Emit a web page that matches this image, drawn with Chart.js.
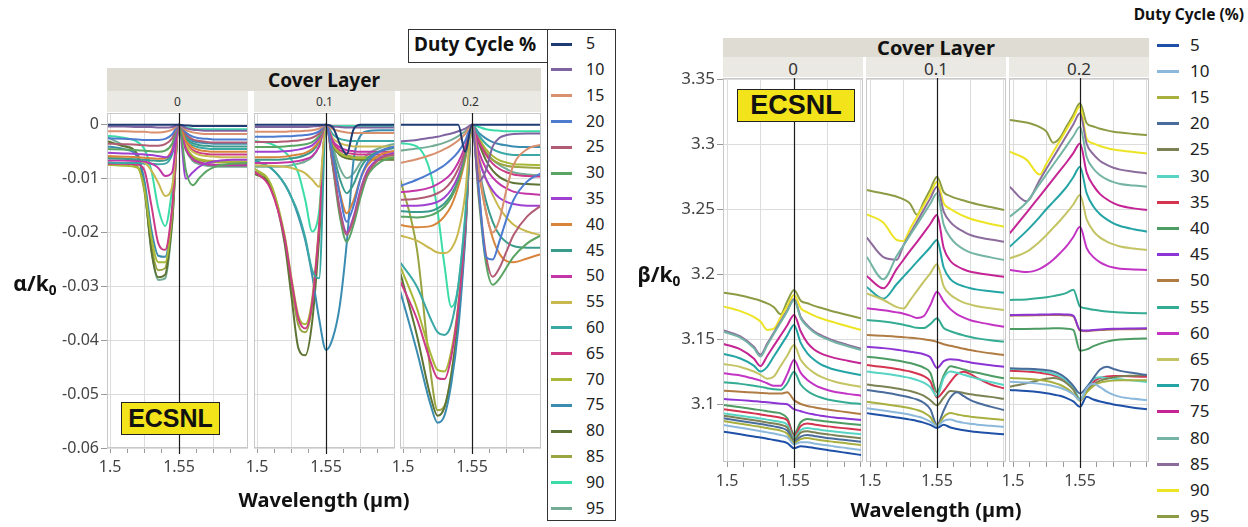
<!DOCTYPE html>
<html>
<head>
<meta charset="utf-8">
<script src="https://cdn.jsdelivr.net/npm/chart.js@4.4.1/dist/chart.umd.min.js"></script>
<style>
  body { margin: 0; background: #fff; }
  #page { position: relative; width: 1248px; height: 527px; overflow: hidden;
          font-family: "Noto Sans", "Open Sans", sans-serif; color: #222; }
  canvas { position: absolute; }
  .lbl { position: absolute; white-space: nowrap; line-height: 1; }
  .c { transform: translate(-50%, -50%); }
  .box { position: absolute; box-sizing: border-box; }
  .tag { position: absolute; box-sizing: border-box; background: #f2e31b; border: 1.5px solid #222;
         font-family: "Liberation Sans", Arial, sans-serif; font-weight: bold; color: #111;
         display: flex; align-items: center; justify-content: center; z-index: 5; }
  .axt { font-weight: bold; }
  .axt sub { font-size: 0.65em; vertical-align: -0.25em; }
</style>
</head>
<body>
<div id="page"></div>
<script>
// wavelength grid (µm) shared by every curve
const wavelength = [1.4975, 1.51, 1.52, 1.525, 1.53, 1.535, 1.54, 1.545, 1.55,
                    1.555, 1.56, 1.565, 1.57, 1.575, 1.58, 1.59, 1.6];
const dutyCycle = [5, 10, 15, 20, 25, 30, 35, 40, 45, 50, 55, 60, 65, 70, 75, 80, 85, 90, 95];
const coverLayers = ['0', '0.1', '0.2'];
const xTickValues = [1.5, 1.5125, 1.525, 1.5375, 1.55, 1.5625, 1.575, 1.5875, 1.6];
const xTickLabels = ['1.5', '1.55'];
const alphaTicks = [-0.06, -0.05, -0.04, -0.03, -0.02, -0.01, 0];
const betaTicks = [3.1, 3.15, 3.2, 3.25, 3.3, 3.35];

const alphaColors = ['#1f3b73', '#8064a2', '#d9906f', '#4c7bd0', '#b15c74', '#5aa564', '#a040d0',
  '#d8843a', '#3a9a8c', '#c236a8', '#c9b850', '#3aa8a4', '#cc3a86', '#a8b836', '#3a8cb0',
  '#5e7434', '#9aa440', '#3cdca8', '#74ac96'];
const betaColors = ['#1f50a8', '#8cb8dc', '#a8b040', '#4a6c9c', '#7c8254', '#58d4c4', '#d43450',
  '#4c9c64', '#8c34d4', '#b07c44', '#34ac94', '#c434c4', '#c4c464', '#24a4a4', '#c42494',
  '#74b4a4', '#8c6c9c', '#ece424', '#8c9c44'];

// alpha/k0, cover layer 0 (one row per duty cycle)
const alphaCover0 = [
  [0,0,0,0,0,0,0,0,0,-.0001,-.0002,-.0002,-.0002,-.0002,-.0002,-.0002,-.0002],
  [-.0003,-.0003,-.0004,-.0004,-.0004,-.0005,-.0005,-.0004,0,-.0006,-.0009,-.0010,-.0011,-.0011,-.0011,-.0011,-.0011],
  [-.0012,-.0012,-.0013,-.0013,-.0014,-.0014,-.0013,-.0009,0,-.0010,-.0014,-.0016,-.0017,-.0017,-.0017,-.0017,-.0017],
  [-.0025,-.0026,-.0027,-.0028,-.0028,-.0028,-.0026,-.0018,0,-.0014,-.0022,-.0025,-.0026,-.0027,-.0027,-.0027,-.0027],
  [-.0035,-.0036,-.0037,-.0038,-.0039,-.0039,-.0036,-.0025,0,-.0018,-.0027,-.0030,-.0032,-.0033,-.0033,-.0033,-.0033],
  [-.0045,-.0046,-.0047,-.0048,-.0049,-.0050,-.0048,-.0035,0,-.0085,-.0112,-.0098,-.0086,-.0079,-.0075,-.0072,-.0071],
  [-.0052,-.0053,-.0054,-.0055,-.0056,-.0058,-.0060,-.0050,0,-.0100,-.0088,-.0077,-.0071,-.0068,-.0066,-.0065,-.0065],
  [-.0058,-.0059,-.0060,-.0061,-.0062,-.0063,-.0062,-.0045,0,-.0030,-.0042,-.0047,-.0049,-.0050,-.0050,-.0050,-.0050],
  [-.0062,-.0063,-.0064,-.0065,-.0066,-.0067,-.0066,-.0050,0,-.0024,-.0034,-.0038,-.0039,-.0040,-.0040,-.0040,-.0040],
  [-.0066,-.0066,-.0067,-.0068,-.0072,-.0080,-.0095,-.0088,0,-.0045,-.0064,-.0070,-.0073,-.0074,-.0075,-.0075,-.0075],
  [-.0060,-.0062,-.0066,-.0070,-.0085,-.0108,-.0132,-.0115,0,-.0036,-.0050,-.0056,-.0058,-.0059,-.0060,-.0060,-.0060],
  [-.0070,-.0071,-.0071,-.0072,-.0072,-.0073,-.0072,-.0055,0,-.0027,-.0038,-.0042,-.0044,-.0045,-.0045,-.0045,-.0045],
  [-.0072,-.0072,-.0074,-.0085,-.0150,-.0220,-.0232,-.0155,0,-.0033,-.0047,-.0052,-.0054,-.0055,-.0055,-.0055,-.0055],
  [-.0074,-.0076,-.0080,-.0120,-.0210,-.0255,-.0255,-.0165,0,-.0041,-.0058,-.0064,-.0066,-.0067,-.0068,-.0068,-.0068],
  [-.0040,-.0045,-.0060,-.0105,-.0195,-.0243,-.0245,-.0160,0,-.0021,-.0030,-.0033,-.0034,-.0035,-.0035,-.0035,-.0035],
  [-.0030,-.0040,-.0055,-.0115,-.0235,-.0283,-.0278,-.0180,0,-.0045,-.0064,-.0070,-.0073,-.0074,-.0075,-.0075,-.0075],
  [-.0070,-.0072,-.0078,-.0125,-.0225,-.0270,-.0266,-.0172,0,-.0042,-.0060,-.0066,-.0068,-.0069,-.0070,-.0070,-.0070],
  [-.0020,-.0024,-.0032,-.0045,-.0085,-.0155,-.0188,-.0120,0,-.0005,-.0007,-.0008,-.0008,-.0008,-.0008,-.0008,-.0008],
  [-.0022,-.0038,-.0058,-.0120,-.0232,-.0288,-.0285,-.0185,0,-.0047,-.0067,-.0073,-.0076,-.0077,-.0078,-.0078,-.0078]
];

// alpha/k0, cover layer 0.1
const alphaCover01 = [
  [0,0,0,0,0,0,0,0,0,-.0005,-.0035,-.0055,-.0008,0,0,0,0],
  [-.0004,-.0004,-.0004,-.0004,-.0004,-.0004,-.0003,-.0002,0,-.0003,-.0004,-.0005,-.0005,-.0005,-.0005,-.0005,-.0005],
  [-.0013,-.0013,-.0013,-.0012,-.0012,-.0011,-.0010,-.0007,0,-.0008,-.0012,-.0014,-.0015,-.0015,-.0015,-.0015,-.0015],
  [-.0022,-.0022,-.0021,-.0021,-.0020,-.0019,-.0017,-.0012,0,-.0060,-.0130,-.0180,-.0150,-.0100,-.0070,-.0048,-.0040],
  [-.0032,-.0032,-.0031,-.0030,-.0029,-.0027,-.0024,-.0016,0,-.0075,-.0160,-.0204,-.0175,-.0125,-.0090,-.0062,-.0055],
  [-.0041,-.0041,-.0040,-.0039,-.0038,-.0036,-.0032,-.0021,0,-.0080,-.0170,-.0217,-.0185,-.0135,-.0095,-.0068,-.0060],
  [-.0050,-.0050,-.0049,-.0048,-.0046,-.0043,-.0038,-.0025,0,-.0075,-.0155,-.0200,-.0170,-.0120,-.0085,-.0060,-.0052],
  [-.0060,-.0060,-.0059,-.0057,-.0055,-.0052,-.0045,-.0030,0,-.0060,-.0125,-.0164,-.0140,-.0100,-.0075,-.0055,-.0048],
  [-.0065,-.0065,-.0064,-.0062,-.0060,-.0056,-.0049,-.0032,0,-.0050,-.0100,-.0127,-.0110,-.0080,-.0062,-.0048,-.0043],
  [-.0071,-.0071,-.0070,-.0069,-.0067,-.0064,-.0058,-.0040,0,-.0030,-.0042,-.0047,-.0049,-.0050,-.0050,-.0050,-.0050],
  [-.0075,-.0076,-.0078,-.0080,-.0084,-.0090,-.0102,-.0115,0,-.0025,-.0034,-.0038,-.0040,-.0040,-.0040,-.0040,-.0040],
  [-.0068,-.0080,-.0110,-.0135,-.0165,-.0210,-.0270,-.0285,0,-.0018,-.0026,-.0029,-.0030,-.0030,-.0030,-.0030,-.0030],
  [-.0085,-.0120,-.0210,-.0290,-.0360,-.0378,-.0330,-.0190,0,-.0033,-.0047,-.0052,-.0054,-.0055,-.0055,-.0055,-.0055],
  [-.0080,-.0110,-.0205,-.0285,-.0355,-.0370,-.0322,-.0185,0,-.0037,-.0053,-.0059,-.0061,-.0062,-.0062,-.0062,-.0062],
  [-.0065,-.0080,-.0110,-.0135,-.0170,-.0215,-.0280,-.0360,-.0418,-.0395,-.0335,-.0220,-.0065,-.0020,-.0012,-.0010,-.0010],
  [-.0090,-.0115,-.0220,-.0320,-.0415,-.0428,-.0365,-.0210,0,-.0039,-.0056,-.0062,-.0064,-.0065,-.0065,-.0065,-.0065],
  [-.0085,-.0112,-.0212,-.0300,-.0372,-.0385,-.0335,-.0195,0,-.0036,-.0052,-.0057,-.0059,-.0060,-.0060,-.0060,-.0060],
  [-.0030,-.0035,-.0050,-.0065,-.0090,-.0140,-.0198,-.0160,0,-.0002,-.0002,-.0002,-.0002,-.0002,-.0002,-.0002,-.0002],
  [-.0078,-.0078,-.0077,-.0075,-.0072,-.0068,-.0060,-.0040,0,-.0040,-.0080,-.0099,-.0090,-.0070,-.0055,-.0042,-.0035]
];

// alpha/k0, cover layer 0.2
const alphaCover02 = [
  [0,0,0,0,0,0,0,-.0050,0,0,0,0,0,0,0,0,0],
  [-.0031,-.0028,-.0024,-.0022,-.0019,-.0016,-.0012,-.0007,0,-.0105,-.0085,-.0040,-.0024,-.0019,-.0017,-.0016,-.0016],
  [-.0071,-.0064,-.0056,-.0051,-.0045,-.0038,-.0029,-.0017,0,-.0080,-.0160,-.0200,-.0175,-.0120,-.0075,-.0045,-.0037],
  [-.0114,-.0102,-.0090,-.0083,-.0075,-.0064,-.0050,-.0030,0,-.0120,-.0245,-.0250,-.0215,-.0175,-.0140,-.0105,-.0090],
  [-.0139,-.0137,-.0132,-.0127,-.0119,-.0105,-.0082,-.0048,0,-.0130,-.0240,-.0282,-.0265,-.0235,-.0205,-.0170,-.0150],
  [-.0170,-.0172,-.0168,-.0162,-.0152,-.0135,-.0105,-.0060,0,-.0140,-.0255,-.0297,-.0285,-.0265,-.0245,-.0220,-.0205],
  [-.0150,-.0150,-.0147,-.0143,-.0135,-.0120,-.0095,-.0055,0,-.0065,-.0100,-.0122,-.0136,-.0143,-.0147,-.0150,-.0150],
  [-.0186,-.0190,-.0188,-.0182,-.0170,-.0150,-.0115,-.0065,0,-.0090,-.0160,-.0210,-.0240,-.0253,-.0255,-.0248,-.0240],
  [-.0160,-.0162,-.0160,-.0155,-.0146,-.0130,-.0102,-.0058,0,-.0080,-.0140,-.0180,-.0205,-.0218,-.0225,-.0228,-.0228],
  [-.0125,-.0122,-.0116,-.0110,-.0102,-.0090,-.0070,-.0040,0,-.0050,-.0080,-.0098,-.0110,-.0118,-.0124,-.0128,-.0130],
  [-.0205,-.0215,-.0230,-.0237,-.0238,-.0230,-.0200,-.0130,0,-.0060,-.0100,-.0130,-.0155,-.0172,-.0185,-.0198,-.0205],
  [-.0254,-.0300,-.0360,-.0385,-.0390,-.0370,-.0300,-.0175,0,-.0020,-.0035,-.0045,-.0051,-.0054,-.0056,-.0056,-.0056],
  [-.0288,-.0360,-.0440,-.0470,-.0472,-.0430,-.0340,-.0195,0,-.0030,-.0055,-.0072,-.0082,-.0088,-.0092,-.0095,-.0096],
  [-.0260,-.0340,-.0425,-.0455,-.0458,-.0420,-.0335,-.0190,0,-.0025,-.0045,-.0058,-.0066,-.0070,-.0073,-.0074,-.0075],
  [-.0305,-.0420,-.0520,-.0553,-.0540,-.0480,-.0380,-.0215,0,-.0015,-.0025,-.0032,-.0036,-.0038,-.0040,-.0041,-.0041],
  [-.0270,-.0390,-.0505,-.0540,-.0525,-.0465,-.0365,-.0205,0,-.0035,-.0065,-.0085,-.0097,-.0104,-.0108,-.0110,-.0111],
  [-.0096,-.0230,-.0460,-.0530,-.0522,-.0462,-.0360,-.0200,0,-.0030,-.0052,-.0065,-.0072,-.0076,-.0078,-.0079,-.0080],
  [-.0034,-.0040,-.0090,-.0160,-.0260,-.0338,-.0300,-.0170,0,-.0004,-.0008,-.0010,-.0011,-.0012,-.0012,-.0012,-.0012],
  [-.0048,-.0044,-.0040,-.0037,-.0033,-.0028,-.0021,-.0012,0,-.0030,-.0050,-.0065,-.0075,-.0082,-.0088,-.0092,-.0094]
];

// beta/k0, cover layer 0
const betaCover0 = [
  [3.0787,3.0767,3.0750,3.0742,3.0733,3.0724,3.0714,3.0700,3.0660,3.0675,3.0670,3.0662,3.0654,3.0646,3.0638,3.0623,3.0608],
  [3.0838,3.0817,3.0800,3.0791,3.0782,3.0773,3.0762,3.0745,3.0690,3.0705,3.0705,3.0697,3.0689,3.0682,3.0674,3.0660,3.0646],
  [3.0869,3.0849,3.0832,3.0824,3.0815,3.0806,3.0795,3.0772,3.0700,3.0730,3.0738,3.0730,3.0722,3.0715,3.0708,3.0697,3.0685],
  [3.0890,3.0870,3.0854,3.0846,3.0837,3.0828,3.0818,3.0795,3.0710,3.0750,3.0762,3.0754,3.0746,3.0739,3.0732,3.0721,3.0710],
  [3.0910,3.0890,3.0875,3.0867,3.0858,3.0850,3.0840,3.0818,3.0725,3.0780,3.0790,3.0782,3.0774,3.0767,3.0760,3.0748,3.0736],
  [3.0928,3.0910,3.0896,3.0888,3.0880,3.0872,3.0862,3.0840,3.0740,3.0800,3.0815,3.0808,3.0801,3.0795,3.0789,3.0778,3.0767],
  [3.0959,3.0942,3.0928,3.0920,3.0912,3.0904,3.0895,3.0875,3.0750,3.0830,3.0850,3.0843,3.0835,3.0828,3.0822,3.0811,3.0800],
  [3.0992,3.0975,3.0960,3.0953,3.0945,3.0937,3.0928,3.0890,3.0770,3.0860,3.0885,3.0878,3.0871,3.0865,3.0860,3.0849,3.0838],
  [3.1038,3.1030,3.1022,3.1018,3.1013,3.1008,3.1003,3.0998,3.0960,3.0945,3.0930,3.0920,3.0910,3.0903,3.0897,3.0887,3.0877],
  [3.1102,3.1095,3.1088,3.1085,3.1082,3.1080,3.1080,3.1090,3.1030,3.1000,3.0985,3.0975,3.0965,3.0957,3.0950,3.0937,3.0923],
  [3.1167,3.1155,3.1140,3.1132,3.1122,3.1113,3.1110,3.1160,3.1249,3.1150,3.1100,3.1070,3.1050,3.1035,3.1025,3.1010,3.1000],
  [3.1236,3.1220,3.1195,3.1180,3.1160,3.1140,3.1140,3.1230,3.1338,3.1240,3.1185,3.1150,3.1125,3.1108,3.1095,3.1078,3.1064],
  [3.1308,3.1285,3.1250,3.1225,3.1195,3.1212,3.1293,3.1373,3.1454,3.1340,3.1280,3.1240,3.1210,3.1190,3.1173,3.1150,3.1133],
  [3.1385,3.1350,3.1295,3.1250,3.1286,3.1367,3.1447,3.1528,3.1608,3.1470,3.1390,3.1340,3.1305,3.1283,3.1265,3.1243,3.1223],
  [3.1462,3.1420,3.1350,3.1292,3.1370,3.1449,3.1527,3.1606,3.1685,3.1560,3.1470,3.1420,3.1390,3.1370,3.1355,3.1333,3.1313],
  [3.1556,3.1510,3.1430,3.1366,3.1453,3.1540,3.1627,3.1713,3.1800,3.1660,3.1595,3.1550,3.1520,3.1497,3.1477,3.1445,3.1415],
  [3.1566,3.1520,3.1440,3.1380,3.1465,3.1550,3.1637,3.1722,3.1808,3.1670,3.1605,3.1560,3.1530,3.1507,3.1487,3.1455,3.1425],
  [3.1749,3.1715,3.1670,3.1635,3.1570,3.1580,3.1667,3.1753,3.1838,3.1738,3.1705,3.1680,3.1660,3.1643,3.1628,3.1598,3.1569],
  [3.1856,3.1835,3.1810,3.1795,3.1775,3.1745,3.1690,3.1790,3.1877,3.1795,3.1775,3.1755,3.1740,3.1725,3.1710,3.1685,3.1659]
];

// beta/k0, cover layer 0.1
const betaCover01 = [
  [3.0930,3.0912,3.0897,3.0889,3.0880,3.0870,3.0857,3.0840,3.0815,3.0840,3.0820,3.0808,3.0798,3.0790,3.0784,3.0775,3.0767],
  [3.0967,3.0950,3.0935,3.0927,3.0918,3.0905,3.0890,3.0865,3.0830,3.0870,3.0880,3.0865,3.0855,3.0848,3.0841,3.0833,3.0825],
  [3.1018,3.1000,3.0985,3.0977,3.0968,3.0955,3.0935,3.0900,3.0830,3.0900,3.0930,3.0920,3.0910,3.0903,3.0896,3.0887,3.0877],
  [3.1108,3.1090,3.1072,3.1062,3.1050,3.1035,3.1010,3.0960,3.0840,3.0950,3.1050,3.1090,3.1060,3.1030,3.1010,3.0980,3.0954],
  [3.1150,3.1135,3.1120,3.1110,3.1100,3.1085,3.1065,3.1030,3.0990,3.1050,3.1100,3.1095,3.1085,3.1075,3.1068,3.1055,3.1040],
  [3.1250,3.1235,3.1220,3.1210,3.1200,3.1185,3.1165,3.1130,3.1060,3.1200,3.1250,3.1240,3.1225,3.1210,3.1195,3.1170,3.1146],
  [3.1300,3.1285,3.1270,3.1260,3.1250,3.1235,3.1215,3.1175,3.1050,3.1100,3.1170,3.1230,3.1248,3.1230,3.1200,3.1150,3.1121],
  [3.1364,3.1350,3.1335,3.1325,3.1315,3.1300,3.1280,3.1240,3.1090,3.1220,3.1290,3.1280,3.1265,3.1250,3.1240,3.1218,3.1198],
  [3.1441,3.1430,3.1418,3.1410,3.1402,3.1394,3.1383,3.1360,3.1277,3.1330,3.1345,3.1340,3.1330,3.1320,3.1312,3.1298,3.1287],
  [3.1531,3.1525,3.1518,3.1514,3.1510,3.1505,3.1498,3.1490,3.1478,3.1460,3.1448,3.1437,3.1425,3.1415,3.1405,3.1390,3.1377],
  [3.1646,3.1635,3.1620,3.1610,3.1598,3.1586,3.1584,3.1615,3.1659,3.1585,3.1560,3.1542,3.1528,3.1515,3.1505,3.1490,3.1480],
  [3.1736,3.1722,3.1705,3.1695,3.1680,3.1662,3.1675,3.1760,3.1864,3.1790,3.1730,3.1690,3.1665,3.1645,3.1632,3.1612,3.1595],
  [3.1851,3.1800,3.1745,3.1735,3.1800,3.1870,3.1940,3.2005,3.2075,3.1905,3.1840,3.1805,3.1780,3.1765,3.1752,3.1737,3.1723],
  [3.1900,3.1810,3.1923,3.1980,3.2036,3.2093,3.2149,3.2206,3.2262,3.2050,3.1960,3.1925,3.1905,3.1890,3.1880,3.1868,3.1856],
  [3.1985,3.1890,3.2040,3.2110,3.2180,3.2245,3.2315,3.2385,3.2454,3.2200,3.2100,3.2060,3.2035,3.2018,3.2008,3.1993,3.1979],
  [3.2133,3.1960,3.2140,3.2220,3.2300,3.2380,3.2460,3.2540,3.2621,3.2380,3.2280,3.2225,3.2190,3.2165,3.2150,3.2128,3.2108],
  [3.2282,3.2130,3.2110,3.2222,3.2312,3.2402,3.2492,3.2582,3.2672,3.2480,3.2400,3.2355,3.2325,3.2300,3.2285,3.2265,3.2249],
  [3.2459,3.2395,3.2262,3.2255,3.2349,3.2439,3.2529,3.2619,3.2710,3.2544,3.2500,3.2470,3.2445,3.2425,3.2410,3.2385,3.2364],
  [3.2646,3.2620,3.2595,3.2575,3.2540,3.2456,3.2552,3.2651,3.2749,3.2630,3.2600,3.2580,3.2565,3.2550,3.2537,3.2515,3.2492]
];

// beta/k0, cover layer 0.2
const betaCover02 = [
  [3.1108,3.1100,3.1090,3.1083,3.1074,3.1063,3.1045,3.1020,3.0979,3.1056,3.1035,3.1020,3.1008,3.0997,3.0988,3.0972,3.0959],
  [3.1172,3.1165,3.1155,3.1148,3.1138,3.1125,3.1105,3.1075,3.1031,3.1120,3.1155,3.1130,3.1095,3.1070,3.1055,3.1040,3.1031],
  [3.1200,3.1195,3.1185,3.1177,3.1165,3.1148,3.1120,3.1080,3.1025,3.1090,3.1140,3.1165,3.1175,3.1180,3.1182,3.1183,3.1183],
  [3.1275,3.1272,3.1266,3.1260,3.1250,3.1230,3.1195,3.1140,3.1082,3.1130,3.1200,3.1265,3.1287,3.1270,3.1255,3.1238,3.1223],
  [3.1133,3.1160,3.1185,3.1195,3.1200,3.1190,3.1160,3.1110,3.1031,3.1100,3.1150,3.1180,3.1195,3.1205,3.1212,3.1218,3.1223],
  [3.1270,3.1265,3.1255,3.1245,3.1232,3.1212,3.1180,3.1125,3.1040,3.1120,3.1190,3.1205,3.1200,3.1195,3.1190,3.1180,3.1170],
  [3.1255,3.1250,3.1240,3.1232,3.1222,3.1205,3.1175,3.1120,3.1030,3.1100,3.1170,3.1200,3.1212,3.1215,3.1215,3.1212,3.1210],
  [3.1577,3.1578,3.1580,3.1581,3.1582,3.1582,3.1580,3.1570,3.1410,3.1420,3.1445,3.1465,3.1480,3.1490,3.1497,3.1502,3.1505],
  [3.1685,3.1686,3.1688,3.1689,3.1690,3.1690,3.1688,3.1680,3.1570,3.1565,3.1570,3.1574,3.1577,3.1579,3.1580,3.1581,3.1582],
  [3.1680,3.1681,3.1683,3.1684,3.1685,3.1685,3.1683,3.1675,3.1565,3.1560,3.1565,3.1569,3.1572,3.1574,3.1575,3.1576,3.1577],
  [3.1800,3.1805,3.1815,3.1822,3.1830,3.1840,3.1855,3.1880,3.1750,3.1735,3.1725,3.1718,3.1712,3.1708,3.1705,3.1700,3.1698],
  [3.2031,3.2015,3.2040,3.2070,3.2110,3.2160,3.2215,3.2285,3.2364,3.2200,3.2130,3.2090,3.2065,3.2050,3.2040,3.2035,3.2031],
  [3.2121,3.2170,3.2250,3.2300,3.2355,3.2410,3.2470,3.2535,3.2608,3.2420,3.2330,3.2280,3.2250,3.2228,3.2212,3.2196,3.2185],
  [3.2210,3.2330,3.2440,3.2500,3.2555,3.2610,3.2670,3.2745,3.2826,3.2620,3.2520,3.2460,3.2420,3.2390,3.2370,3.2345,3.2326],
  [3.2313,3.2470,3.2600,3.2665,3.2730,3.2795,3.2860,3.2930,3.3005,3.2780,3.2680,3.2615,3.2575,3.2545,3.2525,3.2505,3.2492],
  [3.2440,3.2550,3.2695,3.2768,3.2841,3.2913,3.2986,3.3060,3.3133,3.2900,3.2810,3.2760,3.2728,3.2707,3.2693,3.2681,3.2672],
  [3.2672,3.2560,3.2726,3.2811,3.2896,3.2981,3.3066,3.3151,3.3236,3.3000,3.2920,3.2870,3.2840,3.2818,3.2803,3.2787,3.2774],
  [3.2941,3.2880,3.2765,3.2850,3.2938,3.3026,3.3114,3.3202,3.3290,3.3040,3.3005,3.2985,3.2970,3.2958,3.2950,3.2938,3.2928],
  [3.3185,3.3165,3.3130,3.3095,3.3010,3.3047,3.3136,3.3224,3.3313,3.3160,3.3135,3.3118,3.3105,3.3095,3.3088,3.3078,3.3069]
];

const page = document.getElementById('page');
const FONT = '"Noto Sans", "Open Sans", sans-serif';
const Y_AXIS_W = 60, X_AXIS_H = 42, PAD_TOP = 12;

function el(tag, cls, style, html) {
  const e = document.createElement(tag);
  if (cls) e.className = cls;
  Object.assign(e.style, style);
  if (html !== undefined) e.innerHTML = html;
  page.appendChild(e);
  return e;
}

// facet border + reference line at 1.55 µm
const facetFrame = {
  id: 'facetFrame',
  afterDatasetsDraw(chart, args, opts) {
    const { ctx, chartArea: a, scales: { x } } = chart;
    ctx.save();
    ctx.strokeStyle = '#c8c8c8';
    ctx.lineWidth = 1;
    ctx.strokeRect(a.left + 0.5, a.top + 0.5, a.right - a.left - 1, a.bottom - a.top - 1);
    const px = Math.round(x.getPixelForValue(opts.ref)) + 0.5;
    ctx.strokeStyle = '#1c1c1c';
    ctx.lineWidth = 1.2;
    ctx.beginPath();
    ctx.moveTo(px, a.top);
    ctx.lineTo(px, a.bottom + 6);
    ctx.stroke();
    ctx.restore();
  }
};

function drawFacet(panel, f) {
  const canvas = document.createElement('canvas');
  canvas.width = Y_AXIS_W + panel.facetWidth;
  canvas.height = PAD_TOP + panel.height + X_AXIS_H;
  canvas.style.left = (panel.facetLeft[f] - Y_AXIS_W) + 'px';
  canvas.style.top = (panel.top - PAD_TOP) + 'px';
  page.appendChild(canvas);
  const first = f === 0;

  const datasets = panel.series[f].map((vals, i) => ({
    label: dutyCycle[i] + '',
    data: wavelength.map((w, k) => ({ x: w, y: vals[k] })),
    borderColor: panel.colors[i],
    borderWidth: 2,
    pointRadius: 0,
    cubicInterpolationMode: 'monotone',
    fill: false
  }));

  new Chart(canvas, {
    type: 'line',
    data: { datasets },
    plugins: [facetFrame],
    options: {
      responsive: false,
      animation: false,
      devicePixelRatio: 1,
      layout: { padding: { top: PAD_TOP, left: 0, right: 0, bottom: 0 } },
      plugins: { legend: { display: false }, tooltip: { enabled: false }, facetFrame: { ref: 1.55 } },
      scales: {
        x: {
          type: 'linear',
          min: panel.xMin,
          max: panel.xMax,
          afterBuildTicks: (axis) => { axis.ticks = xTickValues.map(v => ({ value: v })); },
          afterFit: (axis) => { axis.height = X_AXIS_H; axis.paddingLeft = 0; axis.paddingRight = 0; },
          ticks: {
            autoSkip: false, maxRotation: 0, padding: 5, color: '#444',
            font: { family: FONT, size: 16 },
            callback: (v) => {
              const s = String(+v.toFixed(4));
              return xTickLabels.includes(s) ? s : '';
            }
          },
          grid: {
            tickLength: 5,
            tickColor: '#9a9a9a',
            color: (c) => {
              const v = c.tick ? c.tick.value : 0;
              const major = Math.abs(v / 0.025 - Math.round(v / 0.025)) < 1e-6;
              return major ? '#dcdcdc' : 'rgba(0,0,0,0)';
            }
          },
          border: { display: false }
        },
        y: {
          type: 'linear',
          min: panel.yMin,
          max: panel.yMax,
          afterBuildTicks: (axis) => { axis.ticks = panel.yTicks.map(v => ({ value: v })); },
          afterFit: (axis) => { axis.width = Y_AXIS_W; axis.paddingTop = 0; axis.paddingBottom = 0; },
          ticks: {
            display: first, padding: 2, color: '#444',
            font: { family: FONT, size: panel.yTickFont },
            callback: (v) => String(+v.toFixed(3))
          },
          grid: { color: '#dcdcdc', tickColor: '#9a9a9a', tickLength: 6, drawTicks: first },
          border: { display: false }
        }
      }
    }
  });
}

function drawPanel(panel) {
  const x0 = panel.facetLeft[0];
  const x1 = panel.facetLeft[2] + panel.facetWidth;
  // strips
  el('div', 'box', { left: x0 + 'px', top: panel.stripTop + 'px', width: (x1 - x0) + 'px',
    height: (panel.valueTop - panel.stripTop) + 'px', background: '#dfdcd3' });
  el('div', 'lbl c axt', { left: (x0 + x1) / 2 + 'px', top: (panel.stripTop + panel.valueTop) / 2 + 'px',
    fontSize: panel.stripFont + 'px', color: '#111' }, 'Cover Layer');
  coverLayers.forEach((c, f) => {
    const l = panel.facetLeft[f];
    el('div', 'box', { left: l + 'px', top: panel.valueTop + 'px', width: panel.facetWidth + 'px',
      height: (panel.top - panel.valueTop - 1) + 'px', background: '#ebe9e3' });
    el('div', 'lbl c', { left: l + panel.facetWidth / 2 + 'px', top: (panel.valueTop + panel.top) / 2 + 'px',
      fontSize: panel.valueFont + 'px', color: '#333' }, c);
    drawFacet(panel, f);
  });
  el('div', 'lbl c axt', { left: (x0 + x1) / 2 + 'px', top: panel.xTitleY + 'px', fontSize: '20px', color: '#111' },
    'Wavelength (µm)');
  el('div', 'lbl c axt', { left: panel.yTitleX + 'px', top: panel.yTitleY + 'px', fontSize: '21px', color: '#111' },
    panel.yTitle);
  el('div', 'tag', {
    fontSize: panel.tag[4] + 'px', left: panel.tag[0] + 'px', top: panel.tag[1] + 'px',
    width: panel.tag[2] + 'px', height: panel.tag[3] + 'px'
  }, 'ECSNL');
}

function drawLegend(colors, lg) {
  dutyCycle.forEach((d, i) => {
    const y = lg.y0 + i * lg.step;
    el('div', 'box', { left: lg.lineX + 'px', top: (y - 1.5) + 'px', width: lg.lineW + 'px', height: '3px',
      background: colors[i] });
    el('div', 'lbl', { left: lg.textX + 'px', top: (y - lg.font * 0.55) + 'px', fontSize: lg.font + 'px',
      color: '#222' }, d);
  });
}

const alphaPanel = {
  series: [alphaCover0, alphaCover01, alphaCover02], colors: alphaColors,
  facetLeft: [107, 254, 400], facetWidth: 141, top: 113, height: 335,
  stripTop: 68, valueTop: 91, stripFont: 19, valueFont: 12, yTickFont: 16,
  xMin: 1.4978, xMax: 1.6, yMin: -0.06, yMax: 0.0022, yTicks: alphaTicks,
  xTitleY: 500, yTitleX: 35, yTitleY: 285, yTitle: 'α/k<sub>0</sub>',
  tag: [121, 402, 99, 33, 25]
};
const betaPanel = {
  series: [betaCover0, betaCover01, betaCover02], colors: betaColors,
  facetLeft: [723, 866, 1009], facetWidth: 140, top: 78, height: 384,
  stripTop: 38, valueTop: 57, stripFont: 20, valueFont: 17, yTickFont: 17,
  xMin: 1.497, xMax: 1.6015, yMin: 3.0554, yMax: 3.3508, yTicks: betaTicks,
  xTitleY: 510, yTitleX: 659, yTitleY: 276, yTitle: 'β/k<sub>0</sub>',
  tag: [737, 89, 118, 33, 27]
};

drawPanel(alphaPanel);
drawPanel(betaPanel);

// legend for the alpha panel, boxed
el('div', 'box', { left: '408px', top: '29px', width: '140px', height: '34px', border: '1px solid #333',
  background: '#fff', zIndex: 2 });
el('div', 'lbl axt', { left: '414px', top: '35px', fontSize: '19px', color: '#111', zIndex: 3 }, 'Duty Cycle %');
el('div', 'box', { left: '547px', top: '29px', width: '69px', height: '492px', border: '1px solid #333' });
drawLegend(alphaColors, { y0: 44, step: 25.8, lineX: 551, lineW: 21, textX: 586, font: 16 });

// legend for the beta panel
el('div', 'lbl axt', { right: '4px', top: '7px', fontSize: '15.5px', color: '#111' }, 'Duty Cycle (%)');
drawLegend(betaColors, { y0: 45, step: 26.2, lineX: 1157, lineW: 22, textX: 1190, font: 17 });
</script>
</body>
</html>
